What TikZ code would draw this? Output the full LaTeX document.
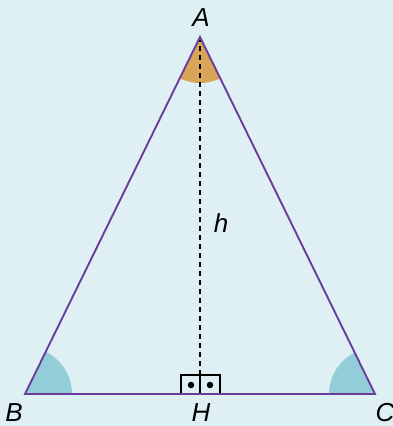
\documentclass[tikz,border=0pt]{standalone}
\usepackage{fontspec}
\setmainfont{Liberation Sans}
\begin{document}
\begin{tikzpicture}[x=1pt,y=-1pt,
  lbl/.style={font=\fontsize{26}{28}\selectfont\itshape, inner sep=0pt},
  side/.style={draw=tri, line width=1.9pt, line join=miter},
  dot/.style={fill=black, circle, inner sep=0pt, minimum size=6.5pt}]
\definecolor{bg}{HTML}{DFF0F5}
\definecolor{tri}{HTML}{6A3D9A}
\definecolor{angA}{HTML}{D8A458}
\definecolor{angB}{HTML}{92CDD8}
\fill[bg] (0,0) rectangle (393,426);
\useasboundingbox (0,0) rectangle (393,426);
\coordinate (A) at (200,37);
\coordinate (B) at (25,394);
\coordinate (C) at (375,394);
\coordinate (H) at (200,394);
\begin{scope}
  \clip (A) -- (B) -- (C) -- cycle;
  \fill[angA] (A) circle (46);
  \fill[angB] (B) circle (47);
  \fill[angB] (C) circle (46);
\end{scope}
\draw[line width=1.5pt, dash pattern=on 5pt off 4pt] (A) -- (H);
\draw[line width=1.5pt] (181,394) rectangle (220,375);
\draw[line width=1.5pt] (200,375) -- (H);
\node[dot] (d1) at (191,385) {};
\node[dot] (d2) at (210,385) {};
\draw[side] (A) -- (B) -- (C) -- cycle;
\node[lbl] (lA) at (201,18) {A};
\node[lbl] (lB) at (14,413) {B};
\node[lbl] (lC) at (385,413) {C};
\node[lbl] (lH) at (201,413) {H};
\node[lbl] (lh) at (221,223) {h};
\end{tikzpicture}
\end{document}
